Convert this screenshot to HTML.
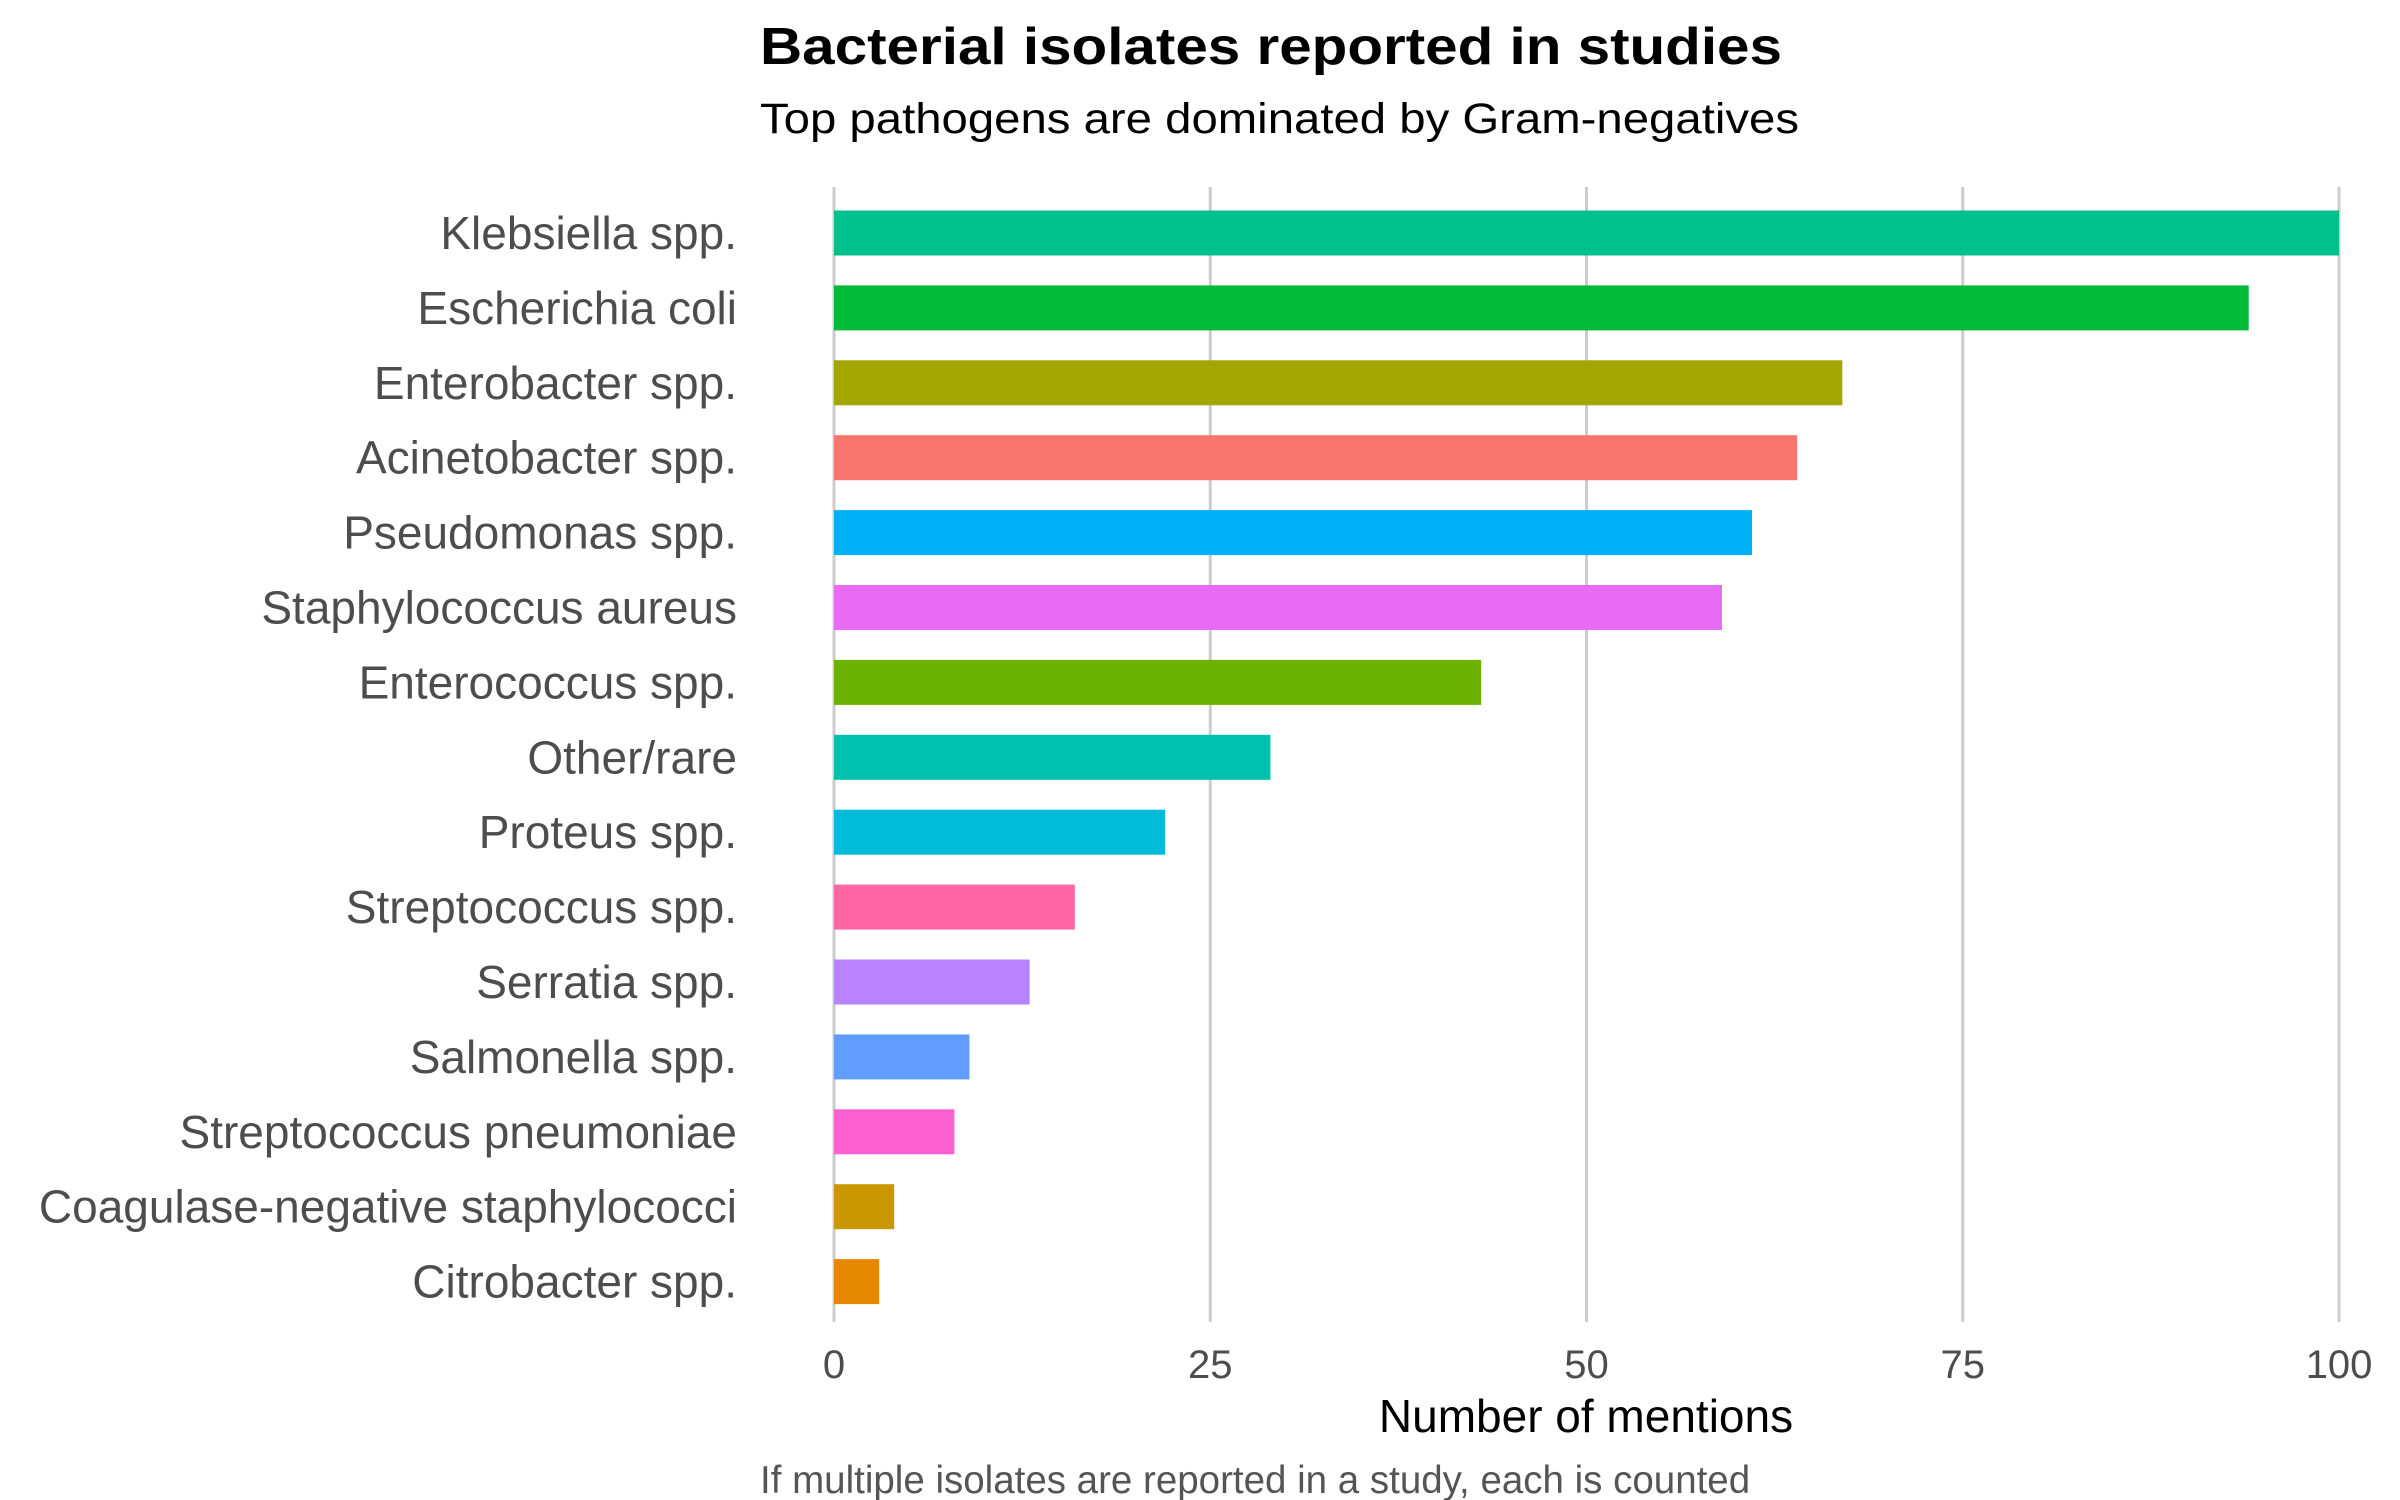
<!DOCTYPE html>
<html><head><meta charset="utf-8"><style>
html,body{margin:0;padding:0;background:#fff;}
svg{display:block;font-family:"Liberation Sans",Arial,sans-serif;}
</style></head><body>
<svg id="chart" width="2400" height="1500" viewBox="0 0 2400 1500" xmlns="http://www.w3.org/2000/svg">
<text x="760" y="64" font-size="52" font-weight="bold" fill="#000" textLength="1022" lengthAdjust="spacingAndGlyphs">Bacterial isolates reported in studies</text>
<text x="760" y="133" font-size="43" fill="#000" textLength="1039" lengthAdjust="spacingAndGlyphs">Top pathogens are dominated by Gram-negatives</text>
<g id="grid"></g>
<g id="bars"></g>
<g id="ylabels"></g>
<g id="xticks"></g>
<text x="1586" y="1432" font-size="46" fill="#000" text-anchor="middle">Number of mentions</text>
<text x="760" y="1493" font-size="38.5" fill="#555">If multiple isolates are reported in a study, each is counted</text>
</svg>
<script>
const categories = ["Klebsiella spp.","Escherichia coli","Enterobacter spp.","Acinetobacter spp.","Pseudomonas spp.","Staphylococcus aureus","Enterococcus spp.","Other/rare","Proteus spp.","Streptococcus spp.","Serratia spp.","Salmonella spp.","Streptococcus pneumoniae","Coagulase-negative staphylococci","Citrobacter spp."];
const values = [100,94,67,64,61,59,43,29,22,16,13,9,8,4,3];
const colors = ["#00C08B","#00BA38","#A3A500","#F8766D","#00B0F6","#E76BF3","#6BB100","#00C0AF","#00BCD8","#FF67A4","#B983FF","#619CFF","#FD61D1","#C99800","#E58700"];
const xTicks = [0,25,50,75,100];
const NS="http://www.w3.org/2000/svg";
const x0=834, x1=2339, xmax=100;
const xs=v=>x0+(v/xmax)*(x1-x0);
const rowTop=233, rowStep=74.9, barH=45;
const yc=i=>rowTop+i*rowStep;
const grid=document.getElementById('grid'), bars=document.getElementById('bars'), yl=document.getElementById('ylabels'), xt=document.getElementById('xticks');
function mk(tag,attrs){const e=document.createElementNS(NS,tag);for(const k in attrs)e.setAttribute(k,attrs[k]);return e;}
xTicks.forEach(t=>{
  const l=mk('line',{x1:xs(t),x2:xs(t),y1:187,y2:1322,stroke:'#cccccc','stroke-width':3});
  
  
  grid.appendChild(l);
  const tx=mk('text',{x:xs(t),y:1378,'font-size':40,fill:'#4d4d4d','text-anchor':'middle'});
  tx.textContent=t;
  
  
  xt.appendChild(tx);
});
categories.forEach((c,i)=>{
  const r=mk('rect',{x:xs(0),y:yc(i)-barH/2,width:xs(values[i])-xs(0),height:barH,fill:colors[i]});
  
  
  bars.appendChild(r);
  const t=mk('text',{x:737,y:yc(i)+16,'font-size':46,fill:'#4d4d4d','text-anchor':'end'});
  t.textContent=c;
  
  
  yl.appendChild(t);
});
</script>
</body></html>
